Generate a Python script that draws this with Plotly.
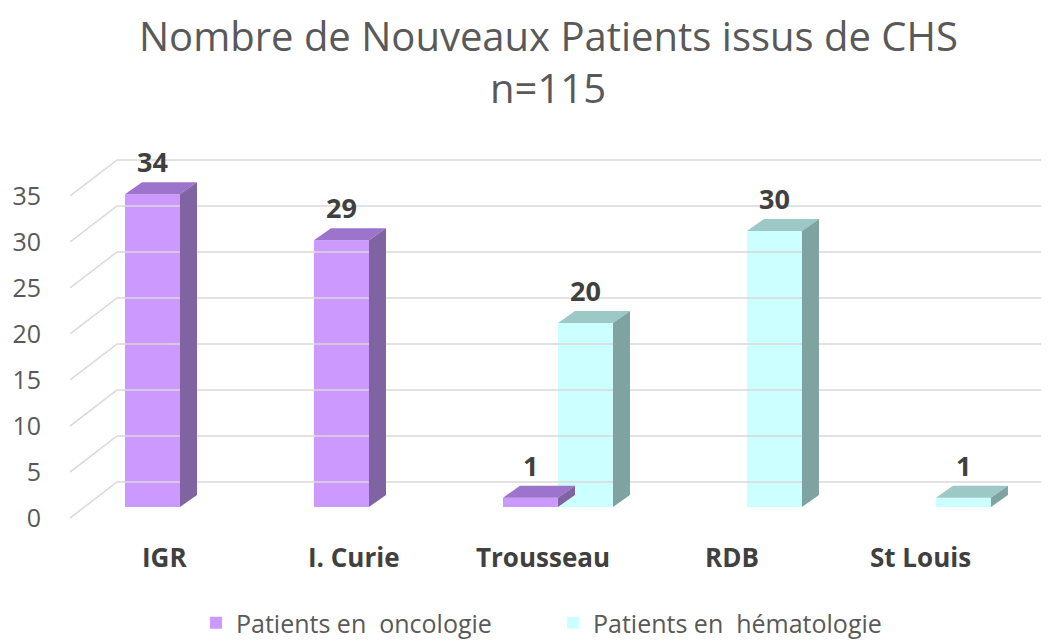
import plotly.graph_objects as go

categories = ["IGR", "I. Curie", "Trousseau", "RDB", "St Louis"]
oncologie = [34, 29, 1, 0, 0]
hematologie = [0, 0, 20, 30, 1]
series_names = ["Patients en  oncologie", "Patients en  hématologie"]
y_ticks = [0, 5, 10, 15, 20, 25, 30, 35]
title_line1 = "Nombre de Nouveaux Patients issus de CHS"
title_line2 = "n=115"

# geometry (styling)
BW = 0.291            # bar width in category units
DDX, DDY = 0.09, 1.3  # bar depth offset
FLOOR_FRONT = -1.2    # front edge of floor relative to bar base
WALL = 2.72           # back wall offset
X_LEFT, X_RIGHT = -0.582, 4.577
WALL_DX = 0.249
W, H = 1041, 635      # page body has an 8px margin
M_L, M_R, M_T, M_B = 62, 4, 142, 113
PLOT_H = H - M_T - M_B
PLOT_W = W - M_L - M_R

front_cols = ["#CC99FF", "#CCFFFF"]
top_cols = ["#9D74CB", "#9CC9C6"]
side_cols = ["#8064A2", "#7FA3A1"]
FONT = "Open Sans"


def py(ypx):  # reference window pixel y -> paper y
    return (530 - ypx) / PLOT_H


def px(xpx):  # reference window pixel x -> paper x
    return (xpx - 70) / PLOT_W


fig = go.Figure()

# gridlines (floor diagonal + back wall)
for v in y_ticks:
    fig.add_trace(go.Scatter(
        x=[X_LEFT, X_LEFT + WALL_DX, X_RIGHT],
        y=[v + FLOOR_FRONT, v + WALL, v + WALL],
        mode="lines", line=dict(color="#D9D9D9", width=1.5),
        hoverinfo="skip", showlegend=False))

offsets = [-BW, 0.0]
for s, vals in enumerate([oncologie, hematologie]):
    xs = [i for i, v in enumerate(vals) if v]
    ys = [v for v in vals if v]
    fig.add_trace(go.Bar(
        x=xs, y=ys, width=BW, offset=offsets[s], base=0,
        marker=dict(color=front_cols[s], line=dict(width=0)),
        name=series_names[s], showlegend=True, hoverinfo="y"))
    for i, v in zip(xs, ys):
        x0 = i + offsets[s]
        x1 = x0 + BW
        # top face
        fig.add_trace(go.Scatter(
            x=[x0, x1, x1 + DDX, x0 + DDX, x0],
            y=[v, v, v + DDY, v + DDY, v],
            fill="toself", fillcolor=top_cols[s], mode="lines",
            line=dict(width=0, color=top_cols[s]),
            hoverinfo="skip", showlegend=False))
        # side face
        fig.add_trace(go.Scatter(
            x=[x1, x1, x1 + DDX, x1 + DDX, x1],
            y=[0, v, v + DDY, DDY, 0],
            fill="toself", fillcolor=side_cols[s], mode="lines",
            line=dict(width=0, color=side_cols[s]),
            hoverinfo="skip", showlegend=False))
        fig.add_annotation(x=x0 + BW / 2, y=v + 3.5, text=f"<b>{v}</b>",
                           showarrow=False, xanchor="center", yanchor="middle",
                           font=dict(size=27, color="#404040", family=FONT))

# category labels
for i, c in enumerate(categories):
    fig.add_annotation(x=i - 0.08, xref="x", yref="paper",
                       y=py(557), text=f"<b>{c}</b>", showarrow=False,
                       xanchor="center", yanchor="middle",
                       font=dict(size=26, color="#404040", family=FONT))

for txt, ypx in [(title_line1, 35), (title_line2, 88)]:
    fig.add_annotation(xref="paper", yref="paper", x=px(548), y=py(ypx),
                       text=txt, showarrow=False, xanchor="center", yanchor="middle",
                       font=dict(size=40, color="#595959", family=FONT))

fig.update_layout(
    width=W, height=H,
    margin=dict(l=M_L, r=M_R, t=M_T, b=M_B, autoexpand=False),
    paper_bgcolor="white", plot_bgcolor="white",
    barmode="overlay",
    xaxis=dict(range=[X_LEFT, X_RIGHT], showgrid=False, zeroline=False,
               showticklabels=False, showline=False, automargin=False),
    yaxis=dict(range=[-2.5, 38.8], showgrid=False, zeroline=False, showline=False,
               automargin=False,
               tickvals=[v + FLOOR_FRONT for v in y_ticks],
               ticktext=[str(v) for v in y_ticks], ticklabelstandoff=28,
               tickfont=dict(size=25, color="#595959", family=FONT)),
    legend=dict(orientation="h", x=px(196), xanchor="left",
                y=py(623), yanchor="middle", tracegroupgap=0,
                entrywidth=312, entrywidthmode="pixels",
                font=dict(size=25, color="#595959", family=FONT)),
    showlegend=True,
)

fig.write_html("out.html")
